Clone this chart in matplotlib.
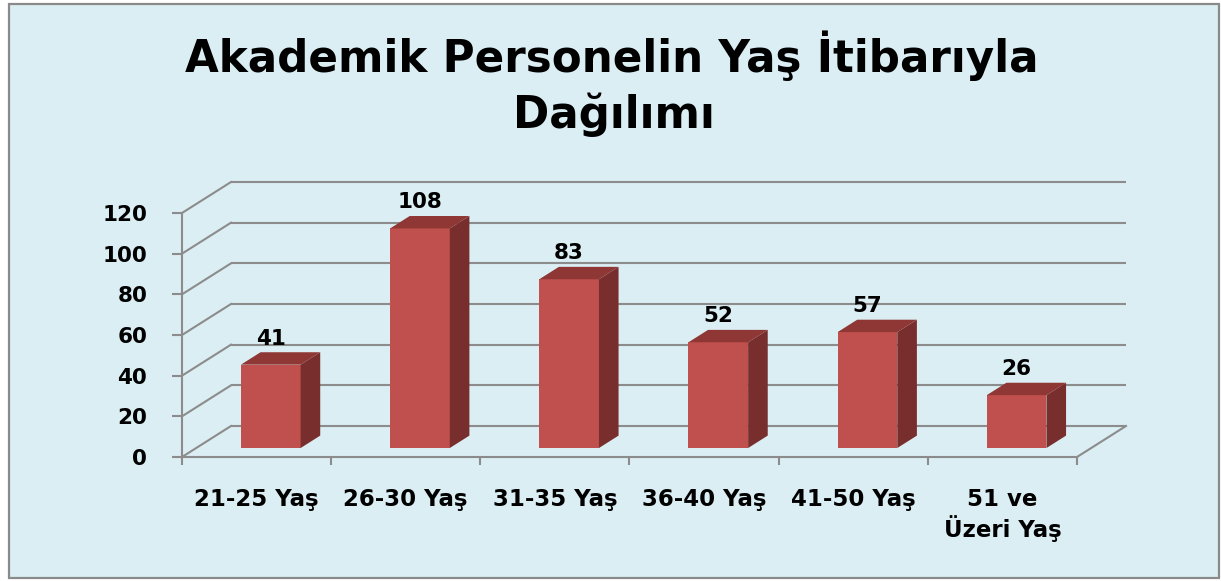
import matplotlib
matplotlib.use("Agg")
import matplotlib.pyplot as plt
from matplotlib.patches import Rectangle, Polygon
from matplotlib.transforms import offset_copy

# ---- data ----
categories = ["21-25 Yaş", "26-30 Yaş", "31-35 Yaş", "36-40 Yaş", "41-50 Yaş", "51 ve\nÜzeri Yaş"]
values = [41, 108, 83, 52, 57, 26]
yticks = [0, 20, 40, 60, 80, 100, 120]
title_line1 = "Akademik Personelin Yaş İtibarıyla"
title_line2 = "Dağılımı"

# ---- style ----
W, H = 1221, 581
BG = "#DBEEF3"
GRID = "#8C8C8C"
FRONT = "#C0504D"
SIDE = "#772E2C"
TOP = "#8E3734"
FONT = "DejaVu Sans"

plt.rcParams["font.family"] = [FONT]

fig = plt.figure(figsize=(W / 100, H / 100), dpi=100, facecolor="white")
fig.patches.append(Rectangle((9 / W, 1 - 578 / H), 1210 / W, 574 / H,
                             transform=fig.transFigure, facecolor=BG,
                             edgecolor="#8A8A8A", lw=1.6, zorder=-10))

# axes geometry (front plane: x=0..n categories, y=0..120)
n = len(categories)
cat_px = (1077 - 182) / n
val_px = (457 - 213) / 120.0
DX = 49 / cat_px          # full depth offset in category units
DY = 31 / val_px          # full depth offset in value units
ax = fig.add_axes([182 / W, 1 - 457 / H, 948 / W, 275 / H])
ax.set_xlim(0, 948 / cat_px)
ax.set_ylim(0, 275 / val_px)
ax.patch.set_alpha(0)
ax.set_zorder(1)

ymax = max(yticks)
lw = 1.5
# back wall gridlines and left wall diagonals
for v in yticks:
    ax.plot([DX, n + DX], [v + DY, v + DY], color=GRID, lw=lw, zorder=1,
            solid_capstyle="butt", clip_on=False)
    ax.plot([0, DX], [v, v + DY], color=GRID, lw=lw, zorder=1, clip_on=False)
# floor right edge
ax.plot([n, n + DX], [0, DY], color=GRID, lw=lw, zorder=1, clip_on=False)

# spines / ticks
for s in ["top", "right"]:
    ax.spines[s].set_visible(False)
ax.spines["left"].set_bounds(0, ymax)
ax.spines["bottom"].set_bounds(0, n)
for s in ["left", "bottom"]:
    ax.spines[s].set_color(GRID)
    ax.spines[s].set_linewidth(lw)
ax.set_yticks(yticks)
ax.set_yticklabels([str(t) for t in yticks], fontsize=15.5, fontweight="bold")
ax.tick_params(axis="y", length=7.5, width=lw, color=GRID, pad=17.5)
ax.set_xticks(range(n + 1))
ax.set_xticklabels([])
ax.tick_params(axis="x", which="major", length=6, width=lw, color=GRID)
ax.set_xticks([i + 0.5 for i in range(n)], minor=True)
ax.set_xticklabels(categories, minor=True, fontsize=16.5, fontweight="bold",
                   multialignment="center")
ax.tick_params(axis="x", which="minor", length=0, pad=22)

# bars
bw = 0.40          # bar width (category units)
d0 = 0.29          # depth fraction of bar front face
bd = 0.40          # bar depth fraction
fx, fy = d0 * DX, d0 * DY
sx, sy = bd * DX, bd * DY
lefts = [i + 0.5 - bw / 2 + fx for i in range(n)]
ax.bar(lefts, values, width=bw, bottom=fy, align="edge", color=FRONT,
       edgecolor="none", zorder=3)
label_tr = offset_copy(ax.transData, fig=fig, x=0, y=5.5, units="points")
for x0, v in zip(lefts, values):
    x1 = x0 + bw
    ytop = v + fy
    ax.add_patch(Polygon([(x1, fy), (x1 + sx, fy + sy), (x1 + sx, ytop + sy), (x1, ytop)],
                         closed=True, facecolor=SIDE, edgecolor="none", zorder=3))
    ax.add_patch(Polygon([(x0, ytop), (x1, ytop), (x1 + sx, ytop + sy), (x0 + sx, ytop + sy)],
                         closed=True, facecolor=TOP, edgecolor="none", zorder=3))
    ax.text(x0 + bw / 2, ytop + sy, str(v), transform=label_tr, ha="center",
            va="baseline", fontsize=15.5, fontweight="bold", zorder=4)

# title
fig.text(611.5 / W, 1 - 72 / H, title_line1, ha="center", va="baseline",
         fontsize=31.4, fontweight="bold")
fig.text(614 / W, 1 - 128 / H, title_line2, ha="center", va="baseline",
         fontsize=31.4, fontweight="bold")

fig.savefig("out.png", dpi=100, facecolor="white")
